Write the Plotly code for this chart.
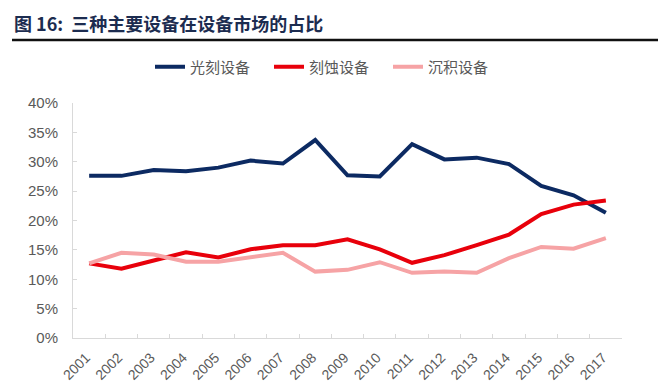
import plotly.graph_objects as go

years = [str(y) for y in range(2001, 2018)]
litho = [27.6, 27.6, 28.6, 28.4, 29.0, 30.2, 29.7, 33.7, 27.7, 27.5, 33.0, 30.4, 30.7, 29.6, 25.9, 24.3, 21.3]
etch = [12.7, 11.8, 13.2, 14.6, 13.7, 15.1, 15.8, 15.8, 16.8, 15.1, 12.8, 14.1, 15.8, 17.6, 21.1, 22.7, 23.4]
depo = [12.7, 14.5, 14.2, 13.0, 13.0, 13.8, 14.5, 11.3, 11.6, 12.9, 11.1, 11.3, 11.1, 13.6, 15.5, 15.2, 17.0]
names = ["光刻设备", "刻蚀设备", "沉积设备"]
colors = ["#0c2a62", "#e8000b", "#f6a3a5"]

# page has an 8px body margin; figure coordinates = screen - 8
OFF = 8
W, H = 671 - OFF, 389 - OFF
L, R, T, B = 65, 49, 95, 51
pw = W - L - R
ph = H - T - B

fig = go.Figure()
for name, vals, c in zip(names, [litho, etch, depo], colors):
    fig.add_trace(go.Scatter(x=years, y=[v / 100 for v in vals], mode="lines", name=name,
                             line=dict(color=c, width=4), cliponaxis=False))

fig.update_layout(
    width=W, height=H,
    margin=dict(l=L, r=R, t=T, b=B, autoexpand=False),
    paper_bgcolor="white", plot_bgcolor="white",
    font=dict(family="Liberation Sans, Noto Sans CJK SC", color="#595959", size=13),
    title=dict(text="<b>图 16:  三种主要设备在设备市场的占比</b>",
               font=dict(family="Noto Sans CJK SC", size=18, color="#1c2c50"),
               x=(14 - OFF) / W, xanchor="left", xref="container",
               y=1 - (25 - OFF) / H, yanchor="middle", yref="container"),
    legend=dict(orientation="h", x=(150 - OFF - L) / pw, xanchor="left",
                y=1 + (T - (67 - OFF)) / ph, yanchor="middle",
                font=dict(family="Noto Sans CJK SC, Liberation Sans", size=15, color="#595959"),
                entrywidth=74, entrywidthmode="pixels", traceorder="normal"),
    showlegend=True,
    xaxis=dict(type="category", range=[-0.5, 16.5], tickson="boundaries",
               ticks="inside", ticklen=4, tickcolor="#d9d9d9",
               showline=True, linecolor="#d9d9d9", linewidth=1, automargin=False,
               showgrid=False, tickangle=-45, ticklabelstandoff=5, ticklabelshift=-3,
               tickfont=dict(size=14, color="#595959")),
    yaxis=dict(range=[0, 0.4], dtick=0.05, tickformat=".0%",
               ticks="inside", ticklen=4, tickcolor="#d9d9d9",
               showline=True, linecolor="#d9d9d9", linewidth=1, automargin=False,
               showgrid=False, zeroline=False, ticklabelstandoff=11,
               tickfont=dict(size=15, color="#595959")),
)

fig.add_shape(type="line", xref="paper", yref="paper",
              x0=(12 - OFF - L) / pw, x1=(658 - OFF - L) / pw,
              y0=(H - B - (40 - OFF)) / ph, y1=(H - B - (40 - OFF)) / ph,
              line=dict(color="#111111", width=2.5))

fig.write_html("out.html")
